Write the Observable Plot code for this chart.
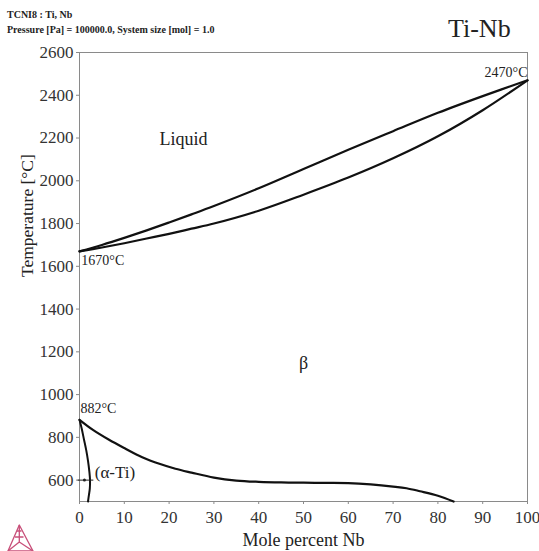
<!DOCTYPE html>
<html>
<head>
<meta charset="utf-8">
<script src="https://cdn.jsdelivr.net/npm/d3@7"></script>
<script src="https://cdn.jsdelivr.net/npm/@observablehq/plot@0.6"></script>
<style>
  html, body { margin: 0; padding: 0; background: #fff; }
  #wrap { position: relative; width: 539px; height: 551px; overflow: hidden; font-family: "Liberation Serif", "Times New Roman", serif; }
  .hdr { position: absolute; left: 7px; font-size: 10px; font-weight: bold; color: #222; white-space: nowrap; }
  #title { position: absolute; left: 448px; top: 16px; font-size: 26px; color: #222; line-height: 26px; }
  #logo { position: absolute; left: 0; top: 515px; }
  #chart { position: absolute; left: 0; top: 0; }
  #chart svg, #chart svg text { font-family: "Liberation Serif", "Times New Roman", serif !important; }
</style>
</head>
<body>
<div id="wrap">
  <div id="chart"></div>
  <div class="hdr" style="top:9px">TCNI8 : Ti, Nb</div>
  <div class="hdr" style="top:24px">Pressure [Pa] = 100000.0, System size [mol] = 1.0</div>
  <div id="title">Ti-Nb</div>
  <svg id="logo" width="40" height="36" viewBox="0 0 40 36">
    <g fill="none" stroke="#c8507a" stroke-width="1.3" stroke-linejoin="round">
      <path d="M19.3 10 L8 36 L33 36 Z"/>
      <path d="M19.3 10 L19.3 27 M19.3 27 L8 36 M19.3 27 L33 36"/>
      <path d="M17 16 L21.5 16 M15 22 L23.5 22"/>
    </g>
  </svg>
</div>
<script>
// ---- data ----
const xTicks = [0, 10, 20, 30, 40, 50, 60, 70, 80, 90, 100];
const yTicks = [600, 800, 1000, 1200, 1400, 1600, 1800, 2000, 2200, 2400, 2600];

// Liquidus
const liqNb = [0, 5, 10, 15, 20, 25, 30, 40, 50, 60, 70, 80, 90, 100];
const liqT  = [1670, 1700, 1733, 1768, 1805, 1843, 1882, 1965, 2055, 2145, 2232, 2318, 2396, 2470];

// Solidus
const solNb = [0, 5, 10, 15, 20, 25, 30, 40, 50, 60, 70, 80, 90, 100];
const solT  = [1670, 1688, 1708, 1730, 1752, 1776, 1800, 1860, 1935, 2015, 2105, 2208, 2330, 2470];

// beta / (alpha+beta) boundary
const betaNb = [0, 3, 6.5, 10, 14, 18, 21.4, 25, 30, 35, 40, 45, 50, 55, 60, 65, 70, 73, 76, 80, 83.5];
const betaT  = [882, 835, 790, 750, 707, 675, 653, 635, 612, 598, 592, 589, 588, 587, 586, 580, 570, 562, 548, 527, 500];

// alpha solvus
const alphaNb = [0, 0.5, 1.0, 1.5, 1.9, 2.2, 2.35, 2.3, 2.1, 1.9];
const alphaT  = [882, 840, 790, 740, 690, 640, 600, 560, 530, 500];

// labels
const regionLabels = ["Liquid", "β"];
const regionNb = [23.2, 50];
const regionT = [2193, 1145];

const serif = "Liberation Serif, Times New Roman, serif";
const toRows = (xs, ys) => xs.map((x, i) => ({x, y: ys[i]}));

const lineOpts = {x: "x", y: "y", stroke: "#111", strokeWidth: 2.2, curve: "catmull-rom"};

const chart = Plot.plot({
  width: 539,
  height: 551,
  marginTop: 52,
  marginLeft: 79,
  marginRight: 12,
  marginBottom: 50,
  style: {fontFamily: serif, fontSize: "17px", background: "transparent", color: "#333"},
  x: {domain: [0, 100]},
  y: {domain: [500, 2600]},
  marks: [
    Plot.frame({stroke: "#8a8a8a"}),
    Plot.axisX({ticks: xTicks, tickFormat: d => String(d), tickSize: 3, tickPadding: 6, stroke: "#8a8a8a", fill: "#333", fontFamily: serif, fontSize: 17, label: null}),
    Plot.axisY({ticks: yTicks, tickFormat: d => String(d), tickSize: 3, tickPadding: 3, stroke: "#8a8a8a", fill: "#333", fontFamily: serif, fontSize: 17, label: null}),
    Plot.line(toRows(liqNb, liqT), lineOpts),
    Plot.line(toRows(solNb, solT), lineOpts),
    Plot.line(toRows(betaNb, betaT), lineOpts),
    Plot.line(toRows(alphaNb, alphaT), {...lineOpts, strokeWidth: 2}),
    // (α-Ti) pointer
    Plot.ruleY([600], {x1: -0.3, x2: 3.2, stroke: "#222", strokeWidth: 1}),
    Plot.dot([{x: 1.1, y: 600}], {x: "x", y: "y", r: 1.5, fill: "#222"}),
    Plot.text(regionLabels, {x: (d, i) => regionNb[i], y: (d, i) => regionT[i], text: d => d, fontSize: 18, fontFamily: serif, fill: "#222"}),
    Plot.text(["(α-Ti)"], {x: 3.4, y: 636, text: d => d, textAnchor: "start", fontSize: 17, fontFamily: serif, fill: "#222"}),
    Plot.text(["882°C"], {x: 0.2, y: 935, text: d => d, textAnchor: "start", fontSize: 14, fontFamily: serif, fill: "#222"}),
    Plot.text(["1670°C"], {x: 0.4, y: 1627, text: d => d, textAnchor: "start", fontSize: 14, fontFamily: serif, fill: "#222"}),
    Plot.text(["2470°C"], {x: 100, y: 2508, text: d => d, textAnchor: "end", fontSize: 14, fontFamily: serif, fill: "#222"}),
    Plot.text(["Mole percent Nb"], {frameAnchor: "bottom", dy: 39, lineAnchor: "middle", text: d => d, fontSize: 18, fontFamily: serif, fill: "#222"}),
    Plot.text(["Temperature [°C]"], {frameAnchor: "left", dx: -52, rotate: -90, lineAnchor: "middle", text: d => d, fontSize: 17.5, fontFamily: serif, fill: "#222"})
  ]
});
document.getElementById("chart").appendChild(chart);
</script>
</body>
</html>
